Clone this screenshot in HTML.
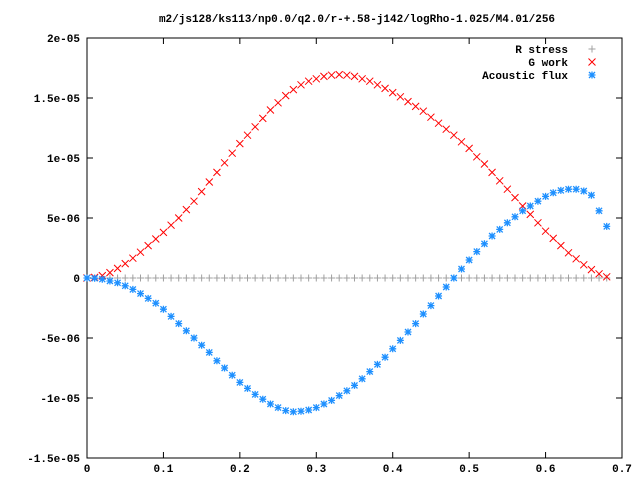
<!DOCTYPE html>
<html><head><meta charset="utf-8"><style>
body{margin:0;background:#fff}
svg{display:block}
text{font-family:"Liberation Mono",monospace;font-weight:bold;font-size:11px;fill:#000}
</style></head><body>
<svg id="chart" width="640" height="480" xmlns="http://www.w3.org/2000/svg">
<text x="357" y="22" text-anchor="middle">m2/js128/ks113/np0.0/q2.0/r-+.58-j142/logRho-1.025/M4.01/256</text>
<g id="axes"></g>
<g id="marks"></g>
<g id="legend">
<text x="568" y="53" text-anchor="end">R stress</text>
<text x="568" y="66" text-anchor="end">G work</text>
<text x="568" y="79" text-anchor="end">Acoustic flux</text>
</g>
</svg>
<script>
const xValues=[0,.01,.02,.03,.04,.05,.06,.07,.08,.09,.10,.11,.12,.13,.14,.15,.16,.17,.18,.19,.20,.21,.22,.23,.24,.25,.26,.27,.28,.29,.30,.31,.32,.33,.34,.35,.36,.37,.38,.39,.40,.41,.42,.43,.44,.45,.46,.47,.48,.49,.50,.51,.52,.53,.54,.55,.56,.57,.58,.59,.60,.61,.62,.63,.64,.65,.66,.67,.68];
const rStress=xValues.map(()=>0);
const gWork=[0,0.05,0.2,0.45,0.8,1.2,1.65,2.15,2.7,3.25,3.8,4.4,5.0,5.7,6.4,7.2,8.0,8.8,9.6,10.4,11.2,11.9,12.6,13.3,14.0,14.6,15.2,15.7,16.1,16.4,16.6,16.8,16.9,16.95,16.9,16.8,16.6,16.4,16.1,15.8,15.45,15.1,14.7,14.3,13.9,13.4,12.9,12.4,11.9,11.35,10.8,10.1,9.5,8.8,8.1,7.4,6.7,6.0,5.3,4.6,3.9,3.3,2.7,2.1,1.6,1.1,0.7,0.35,0.1];
const acousticFlux=[0,-0.02,-0.1,-0.25,-0.4,-0.65,-0.95,-1.3,-1.7,-2.1,-2.6,-3.2,-3.8,-4.4,-5.0,-5.6,-6.2,-6.9,-7.5,-8.1,-8.7,-9.2,-9.7,-10.1,-10.5,-10.8,-11.05,-11.15,-11.1,-11.0,-10.8,-10.5,-10.2,-9.8,-9.4,-8.95,-8.4,-7.8,-7.2,-6.6,-5.9,-5.2,-4.5,-3.8,-3.0,-2.3,-1.5,-0.75,0,0.75,1.5,2.2,2.85,3.5,4.05,4.6,5.1,5.6,6.0,6.4,6.8,7.1,7.3,7.4,7.4,7.25,6.9,5.6,4.3];
const xTicks=[0,0.1,0.2,0.3,0.4,0.5,0.6,0.7];
const xTickLabels=["0","0.1","0.2","0.3","0.4","0.5","0.6","0.7"];
const yTicks=[20,15,10,5,0,-5,-10,-15];
const yTickLabels=["2e-05","1.5e-05","1e-05","5e-06","0","-5e-06","-1e-05","-1.5e-05"];
const L=87,R=622,T=38,B=458;
const sx=v=>L+(v-0)/(0.7)*(R-L);
const sy=v=>T+(20-v)/35*(B-T);
const NS="http://www.w3.org/2000/svg";
const axes=document.getElementById('axes'),marks=document.getElementById('marks');
function mk(tag,attrs,parent){const e=document.createElementNS(NS,tag);for(const k in attrs)e.setAttribute(k,attrs[k]);parent.appendChild(e);return e;}
const frame=mk('rect',{x:L,y:T,width:R-L,height:B-T,fill:'none',stroke:'#000','stroke-width':1},axes);


xTicks.forEach((v,i)=>{const x=sx(v);
 const t=mk('path',{d:`M${x} ${B}v-6M${x} ${T}v6`,stroke:'#000'},axes);
 
 
 const tx=mk('text',{x:x,y:B+14,'text-anchor':'middle'},axes);tx.textContent=xTickLabels[i];
 
 });
yTicks.forEach((v,i)=>{const y=sy(v);
 const t=mk('path',{d:`M${L} ${y}h6M${R} ${y}h-6`,stroke:'#000'},axes);
 
 
 const tx=mk('text',{x:L-7,y:y+4,'text-anchor':'end'},axes);tx.textContent=yTickLabels[i];
 
 });
function plus(x,y,c){return `<path d="M${x-3.5} ${y}h7M${x} ${y-3.5}v7" stroke="${c}" fill="none"/>`;}
function cross(x,y,c){return `<path d="M${x-3.5} ${y-3.5}l7 7M${x-3.5} ${y+3.5}l7 -7" stroke="${c}" fill="none"/>`;}
function star(x,y,c){return `<path d="M${x-3.5} ${y}h7M${x} ${y-3.5}v7M${x-3} ${y-3}l6 6M${x-3} ${y+3}l6 -6" stroke="${c}" fill="none" stroke-width="1.3"/>`;}
function series(name,vals,fn,c){const g=mk('g',{},marks);
 
 
 let s='';vals.forEach((v,i)=>{s+=fn(sx(xValues[i]),sy(v),c);});g.innerHTML=s;}
series('r-stress-series',rStress,plus,'#a0a0a0');
series('g-work-series',gWork,cross,'#ff0000');
series('acoustic-flux-series',acousticFlux,star,'#1e90ff');
const lg=document.getElementById('legend');
const lm=mk('g',{},lg);


lm.innerHTML=plus(592,49,'#a0a0a0')+cross(592,62,'#ff0000')+star(592,75,'#1e90ff');
</script>
</body></html>
